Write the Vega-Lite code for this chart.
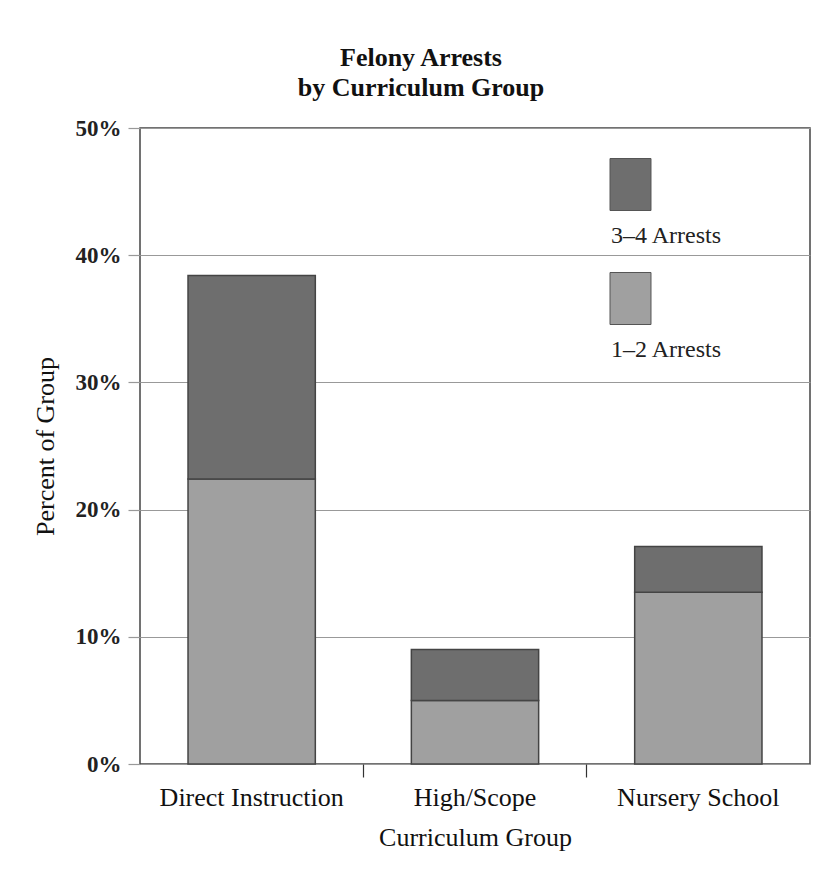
{
  "$schema": "https://vega.github.io/schema/vega-lite/v6.json",
  "autosize": {"type": "none"},
  "padding": {"left": 140, "top": 128, "right": 22, "bottom": 123},
  "width": 670,
  "height": 636,
  "background": "white",
  "title": {
    "text": ["Felony Arrests", "by Curriculum Group"],
    "font": "Liberation Serif",
    "fontSize": 26,
    "fontWeight": "bold",
    "color": "#111",
    "lineHeight": 30,
    "anchor": "middle",
    "frame": "group",
    "dx": -54,
    "offset": 16
  },
  "data": {
    "values": [
      {"group": "Direct Instruction", "arrests": "1–2 Arrests", "percent": 22.4},
      {"group": "Direct Instruction", "arrests": "3–4 Arrests", "percent": 16.0},
      {"group": "High/Scope", "arrests": "1–2 Arrests", "percent": 5.0},
      {"group": "High/Scope", "arrests": "3–4 Arrests", "percent": 4.0},
      {"group": "Nursery School", "arrests": "1–2 Arrests", "percent": 13.5},
      {"group": "Nursery School", "arrests": "3–4 Arrests", "percent": 3.6}
    ]
  },
  "mark": {"type": "bar", "width": {"band": 0.57}, "stroke": "#444", "strokeWidth": 1.5},
  "encoding": {
    "x": {
      "field": "group",
      "type": "nominal",
      "sort": ["Direct Instruction", "High/Scope", "Nursery School"],
      "scale": {"paddingInner": 0, "paddingOuter": 0},
      "axis": {
        "title": "Curriculum Group",
        "labelAngle": 0,
        "labelLimit": 0,
        "bandPosition": 0,
        "domain": false,
        "ticks": true,
        "tickSize": 13,
        "tickColor": "#333",
        "tickWidth": 1.2,
        "tickOpacity": {"condition": {"test": "datum.value === 'Direct Instruction'", "value": 0}, "value": 1},
        "labelFont": "Liberation Serif",
        "labelFontSize": 26,
        "labelColor": "#111",
        "labelBaseline": "alphabetic",
        "labelPadding": 28,
        "titleFont": "Liberation Serif",
        "titleFontSize": 26,
        "titleFontWeight": "normal",
        "titleColor": "#111",
        "titleBaseline": "alphabetic",
        "titleY": 81
      }
    },
    "y": {
      "field": "percent",
      "type": "quantitative",
      "stack": "zero",
      "scale": {"domain": [0, 50], "nice": false},
      "axis": {
        "title": "Percent of Group",
        "values": [0, 10, 20, 30, 40, 50],
        "labelExpr": "datum.value + '%'",
        "domain": false,
        "grid": true,
        "gridColor": "#999",
        "gridWidth": 1.2,
        "ticks": true,
        "tickSize": 12,
        "tickColor": "#999",
        "tickWidth": 1.2,
        "labelFont": "Liberation Serif",
        "labelFontSize": 23,
        "labelFontWeight": "bold",
        "labelColor": "#222",
        "labelPadding": 7,
        "titleFont": "Liberation Serif",
        "titleFontSize": 26,
        "titleFontWeight": "normal",
        "titleColor": "#111",
        "titleAngle": -90,
        "titleAlign": "center",
        "titleBaseline": "alphabetic",
        "titleX": -87,
        "titleY": 318
      }
    },
    "color": {
      "field": "arrests",
      "type": "nominal",
      "scale": {"domain": ["3–4 Arrests", "1–2 Arrests"], "range": ["#6e6e6e", "#a0a0a0"]},
      "legend": {
        "title": null,
        "orient": "none",
        "legendX": 464,
        "legendY": 30,
        "padding": 0,
        "direction": "vertical",
        "symbolType": "M-0.788,-1H0.788V1H-0.788Z",
        "symbolSize": 2704,
        "symbolStrokeColor": "#555",
        "symbolStrokeWidth": 1,
        "symbolOpacity": 1,
        "labelFont": "Liberation Serif",
        "labelFontSize": 24,
        "labelColor": "#222",
        "labelOffset": -46,
        "labelBaseline": "alphabetic",
        "rowPadding": 22,
        "encode": {
          "labels": {"update": {"dy": {"value": 58}}}
        }
      }
    },
    "order": {"field": "arrests", "sort": "ascending"}
  },
  "config": {
    "view": {"stroke": "#444", "strokeWidth": 1.5},
    "font": "Liberation Serif"
  }
}
